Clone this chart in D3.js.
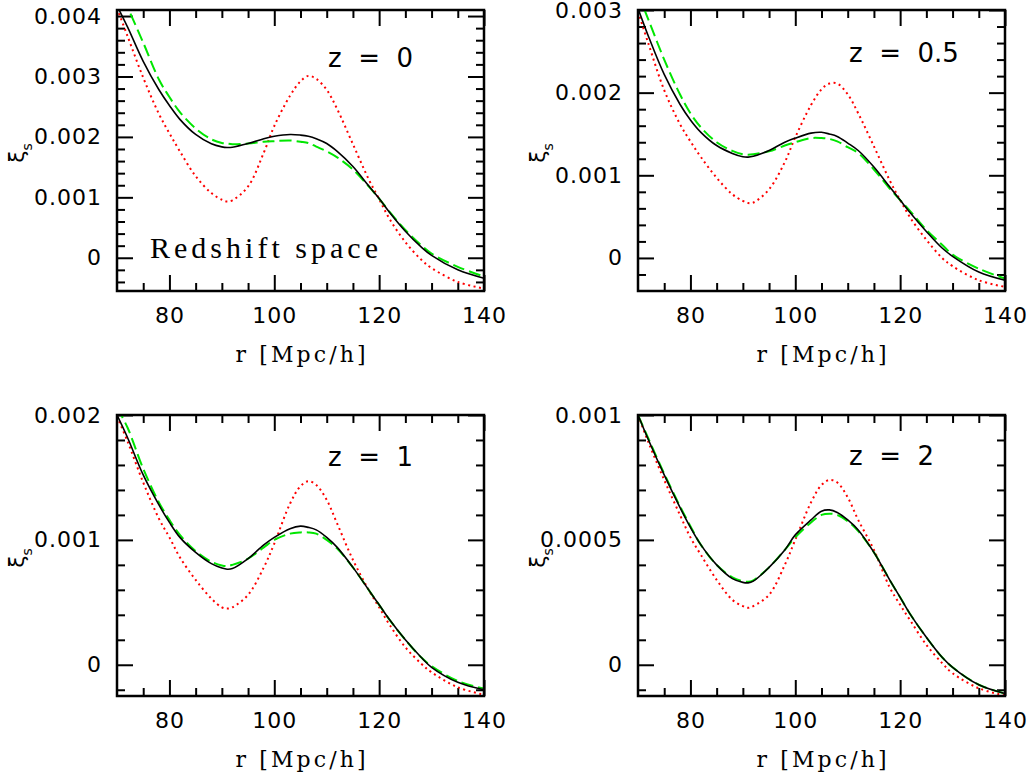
<!doctype html>
<html>
<head>
<script src="https://cdn.jsdelivr.net/npm/d3@7"></script>
<style>
  body { margin: 0; background: #fff; }
</style>
</head>
<body>
<svg width="1034" height="781"></svg>
<script>
// separation r [Mpc/h], shared by all curves
var rVals = [70, 72, 75, 78, 80, 82, 85, 88, 90, 91, 92, 95, 98, 100, 103, 105, 106.5, 108, 110, 112, 115, 118, 120, 122, 125, 128, 130, 135, 140];

// xi_s in units of 1e-3 (solid = black, dashed = green, dotted = red)
var z0Solid  = [4.17, 3.82, 3.25, 2.78, 2.52, 2.29, 2.04, 1.885, 1.835, 1.825, 1.83, 1.89, 1.97, 2.01, 2.04, 2.03, 2.01, 1.97, 1.89, 1.76, 1.51, 1.19, 0.98, 0.75, 0.44, 0.18, 0.04, -0.20, -0.34];
var z0Dashed = [4.55, 4.15, 3.56, 2.95, 2.66, 2.41, 2.14, 1.96, 1.90, 1.89, 1.88, 1.89, 1.92, 1.93, 1.94, 1.92, 1.90, 1.84, 1.76, 1.66, 1.46, 1.18, 0.98, 0.76, 0.46, 0.21, 0.07, -0.15, -0.31];
var z0Dotted = [4.13, 3.67, 2.98, 2.38, 2.06, 1.76, 1.35, 1.07, 0.96, 0.93, 0.95, 1.18, 1.74, 2.18, 2.68, 2.92, 3.01, 2.96, 2.78, 2.46, 1.88, 1.30, 0.97, 0.64, 0.26, -0.03, -0.17, -0.40, -0.51];

var z05Solid  = [3.02, 2.68, 2.22, 1.86, 1.67, 1.52, 1.36, 1.265, 1.225, 1.22, 1.23, 1.30, 1.40, 1.45, 1.51, 1.52, 1.50, 1.47, 1.39, 1.30, 1.10, 0.86, 0.70, 0.54, 0.32, 0.12, 0.02, -0.17, -0.27];
var z05Dashed = [3.20, 2.88, 2.40, 1.98, 1.75, 1.58, 1.40, 1.295, 1.255, 1.25, 1.255, 1.29, 1.36, 1.40, 1.45, 1.45, 1.44, 1.41, 1.34, 1.27, 1.07, 0.84, 0.70, 0.56, 0.34, 0.16, 0.04, -0.13, -0.25];
var z05Dotted = [2.98, 2.59, 2.03, 1.62, 1.41, 1.22, 0.97, 0.77, 0.69, 0.665, 0.67, 0.83, 1.16, 1.46, 1.85, 2.04, 2.11, 2.11, 1.98, 1.75, 1.35, 0.94, 0.70, 0.48, 0.22, 0.00, -0.10, -0.27, -0.35];

var z1Solid  = [2.00, 1.82, 1.52, 1.28, 1.14, 1.02, 0.90, 0.81, 0.775, 0.765, 0.77, 0.85, 0.96, 1.02, 1.09, 1.11, 1.10, 1.08, 1.02, 0.94, 0.78, 0.60, 0.48, 0.36, 0.20, 0.06, -0.02, -0.14, -0.20];
var z1Dashed = [2.06, 1.90, 1.57, 1.30, 1.16, 1.04, 0.91, 0.825, 0.795, 0.79, 0.80, 0.85, 0.94, 1.00, 1.05, 1.06, 1.06, 1.05, 1.00, 0.93, 0.78, 0.60, 0.48, 0.36, 0.20, 0.06, -0.01, -0.13, -0.19];
var z1Dotted = [1.99, 1.79, 1.46, 1.17, 1.02, 0.86, 0.68, 0.53, 0.46, 0.45, 0.46, 0.56, 0.78, 0.97, 1.29, 1.43, 1.47, 1.44, 1.32, 1.13, 0.84, 0.60, 0.46, 0.32, 0.14, 0.01, -0.06, -0.18, -0.24];

var z2Solid  = [1.00, 0.90, 0.76, 0.63, 0.55, 0.48, 0.40, 0.345, 0.33, 0.328, 0.335, 0.39, 0.46, 0.52, 0.58, 0.615, 0.62, 0.61, 0.58, 0.54, 0.45, 0.34, 0.27, 0.20, 0.11, 0.03, -0.01, -0.08, -0.115];
var z2Dashed = [1.00, 0.905, 0.765, 0.635, 0.555, 0.48, 0.40, 0.35, 0.335, 0.332, 0.338, 0.39, 0.46, 0.51, 0.57, 0.60, 0.605, 0.60, 0.575, 0.535, 0.45, 0.34, 0.27, 0.20, 0.11, 0.03, -0.01, -0.08, -0.115];
var z2Dotted = [1.00, 0.89, 0.74, 0.60, 0.51, 0.44, 0.34, 0.26, 0.235, 0.228, 0.235, 0.28, 0.40, 0.50, 0.65, 0.72, 0.74, 0.73, 0.67, 0.58, 0.46, 0.31, 0.24, 0.175, 0.08, 0.007, -0.034, -0.094, -0.123];

// ticks
var xMajor = [80, 100, 120, 140];
var xMinor = [75, 85, 90, 95, 105, 110, 115, 125, 130, 135];
var xLabels = ["80", "100", "120", "140"];

var yMajor0 = [0, 1, 2, 3, 4];
var yMinor0 = [-0.4, -0.2, 0.2, 0.4, 0.6, 0.8, 1.2, 1.4, 1.6, 1.8, 2.2, 2.4, 2.6, 2.8, 3.2, 3.4, 3.6, 3.8];
var yLabels0 = ["0", "0.001", "0.002", "0.003", "0.004"];

var yMajor05 = [0, 1, 2, 3];
var yMinor05 = [-0.2, 0.2, 0.4, 0.6, 0.8, 1.2, 1.4, 1.6, 1.8, 2.2, 2.4, 2.6, 2.8];
var yLabels05 = ["0", "0.001", "0.002", "0.003"];

var yMajor1 = [0, 1, 2];
var yMinor1 = [-0.2, 0.2, 0.4, 0.6, 0.8, 1.2, 1.4, 1.6, 1.8];
var yLabels1 = ["0", "0.001", "0.002"];

var yMajor2 = [0, 0.5, 1];
var yMinor2 = [-0.1, 0.1, 0.2, 0.3, 0.4, 0.6, 0.7, 0.8, 0.9];
var yLabels2 = ["0", "0.0005", "0.001"];

var panelTitles = ["z  =  0", "z  =  0.5", "z  =  1", "z  =  2"];

var svg = d3.select("svg");
var pw = 367, ph = 281;

var panels = [
  {left: 117, top: 10,  yDomain: [-0.55, 4.1],   solid: z0Solid,  dashed: z0Dashed,  dotted: z0Dotted,  yMajor: yMajor0,  yMinor: yMinor0,  yLabels: yLabels0,  title: panelTitles[0], titleY: 57},
  {left: 638, top: 10,  yDomain: [-0.4, 3.0],    solid: z05Solid, dashed: z05Dashed, dotted: z05Dotted, yMajor: yMajor05, yMinor: yMinor05, yLabels: yLabels05, title: panelTitles[1], titleY: 52},
  {left: 117, top: 415, yDomain: [-0.25, 2.0],   solid: z1Solid,  dashed: z1Dashed,  dotted: z1Dotted,  yMajor: yMajor1,  yMinor: yMinor1,  yLabels: yLabels1,  title: panelTitles[2], titleY: 51},
  {left: 638, top: 415, yDomain: [-0.125, 1.0],  solid: z2Solid,  dashed: z2Dashed,  dotted: z2Dotted,  yMajor: yMajor2,  yMinor: yMinor2,  yLabels: yLabels2,  title: panelTitles[3], titleY: 50}
];

function styleAxis(sel) {
  sel.select(".domain").remove();
  sel.selectAll(".tick line").attr("stroke", "#000").attr("stroke-width", 2);
  sel.attr("font-family", "DejaVu Sans").attr("font-size", 22);
  sel.selectAll(".tick text").attr("fill", "#000").style("letter-spacing", "1px");
}

panels.forEach(function (p, i) {
  var xScale = d3.scaleLinear().domain([70, 140]).range([0, pw]),
      yScale = d3.scaleLinear().domain(p.yDomain).range([ph, 0]);

  var g = svg.append("g")
    .attr("transform", "translate(" + p.left + "," + p.top + ")");

  // clip
  svg.append("clipPath").attr("id", "clip" + i)
    .append("rect").attr("width", pw).attr("height", ph);

  // bottom axis with labels
  g.append("g")
    .attr("transform", "translate(0," + ph + ")")
    .call(d3.axisBottom(xScale).tickValues(xMajor).tickSizeInner(-16).tickSizeOuter(0).tickPadding(16)
      .tickFormat(function (d, k) { return xLabels[k]; }))
    .call(styleAxis);
  g.append("g")
    .attr("transform", "translate(0," + ph + ")")
    .call(d3.axisBottom(xScale).tickValues(xMinor).tickSizeInner(-8).tickSizeOuter(0).tickFormat(""))
    .call(styleAxis);

  // top axis
  g.append("g")
    .call(d3.axisTop(xScale).tickValues(xMajor).tickSizeInner(-16).tickSizeOuter(0).tickFormat(""))
    .call(styleAxis);
  g.append("g")
    .call(d3.axisTop(xScale).tickValues(xMinor).tickSizeInner(-8).tickSizeOuter(0).tickFormat(""))
    .call(styleAxis);

  // left axis with labels
  g.append("g")
    .call(d3.axisLeft(yScale).tickValues(p.yMajor).tickSizeInner(-16).tickSizeOuter(0).tickPadding(15)
      .tickFormat(function (d, k) { return p.yLabels[k]; }))
    .call(styleAxis);
  g.append("g")
    .call(d3.axisLeft(yScale).tickValues(p.yMinor).tickSizeInner(-8).tickSizeOuter(0).tickFormat(""))
    .call(styleAxis);

  // right axis
  g.append("g")
    .attr("transform", "translate(" + pw + ",0)")
    .call(d3.axisRight(yScale).tickValues(p.yMajor).tickSizeInner(-16).tickSizeOuter(0).tickFormat(""))
    .call(styleAxis);
  g.append("g")
    .attr("transform", "translate(" + pw + ",0)")
    .call(d3.axisRight(yScale).tickValues(p.yMinor).tickSizeInner(-8).tickSizeOuter(0).tickFormat(""))
    .call(styleAxis);

  // curves
  var line = d3.line()
    .x(function (d, k) { return xScale(rVals[k]); })
    .y(function (d) { return yScale(d); })
    .curve(d3.curveCatmullRom.alpha(0.5));

  var curves = g.append("g").attr("clip-path", "url(#clip" + i + ")");

  curves.append("path")
    .datum(p.dotted)
    .attr("d", line)
    .style("fill", "none")
    .style("stroke", "#ff0000")
    .style("stroke-width", 2)
    .style("stroke-dasharray", "2,3.5");

  curves.append("path")
    .datum(p.dashed)
    .attr("d", line)
    .style("fill", "none")
    .style("stroke", "#00e600")
    .style("stroke-width", 2)
    .style("stroke-dasharray", "12,5");

  curves.append("path")
    .datum(p.solid)
    .attr("d", line)
    .style("fill", "none")
    .style("stroke", "#000")
    .style("stroke-width", 1.6);

  // frame
  g.append("rect")
    .attr("width", pw)
    .attr("height", ph)
    .style("fill", "none")
    .style("stroke", "#000")
    .style("stroke-width", 2.5);

  // redshift label
  g.append("text")
    .attr("x", 211)
    .attr("y", p.titleY)
    .style("font-family", "DejaVu Sans")
    .style("font-size", "26px")
    .style("white-space", "pre")
    .text(p.title);

  // x label
  g.append("text")
    .attr("x", pw / 2)
    .attr("y", ph + 71)
    .attr("text-anchor", "middle")
    .attr("textLength", 130)
    .attr("lengthAdjust", "spacing")
    .style("font-family", "DejaVu Serif")
    .style("font-size", "22px")
    .text("r [Mpc/h]");

  // y label (xi_s), rotated
  var yl = g.append("text")
    .attr("transform", "translate(-93,143)rotate(-90)")
    .attr("text-anchor", "middle")
    .style("font-family", "DejaVu Sans")
    .style("font-size", "22px");
  yl.append("tspan").text("ξ");
  yl.append("tspan").attr("dy", 8).style("font-size", "14px").text("s");

  if (i === 0) {
    g.append("text")
      .attr("x", 33)
      .attr("y", 248)
      .attr("textLength", 228)
      .attr("lengthAdjust", "spacing")
      .style("font-family", "Liberation Serif")
      .style("font-size", "30px")
      .text("Redshift space");
  }
});
</script>
</body>
</html>
